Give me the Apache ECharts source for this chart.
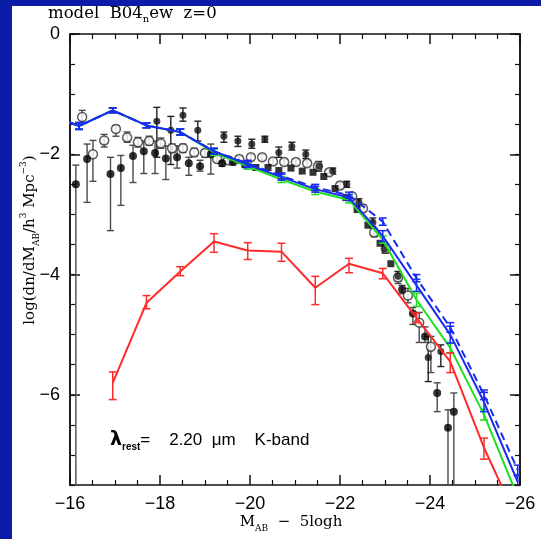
<!DOCTYPE html>
<html><head><meta charset="utf-8">
<script src="https://cdn.jsdelivr.net/npm/echarts@6/dist/echarts.min.js"></script>
<style>
html,body{margin:0;padding:0;background:#0b1ca8;width:541px;height:539px;overflow:hidden}
#c{position:absolute;left:12px;top:6px;width:529px;height:533px;background:#fff}
</style></head><body><div id="c"></div>
<script>
// ---- tick labels ----
const xTicks = [-16, -18, -20, -22, -24, -26];
const yMajor = [-6, -4, -2, 0];

// ---- model curves (magnitude bins) ----
const modelMag   = [-15.45,-16.2,-16.95,-17.7,-18.45,-19.2,-19.95,-20.7,-21.45,-22.2,-22.95,-23.7,-24.45,-25.2,-25.95];
const blueSolid  = [-1.31,-1.53,-1.27,-1.52,-1.63,-1.95,-2.17,-2.38,-2.58,-2.72,-3.36,-4.18,-5.00,-6.12,-7.45];
const blueSolidE = [0.06,0.06,0.04,0.04,0.05,0.05,0.05,0.05,0.05,0.05,0.09,0.10,0.14,0.16,0.10];
const blueDash   = [-1.31,-1.53,-1.27,-1.52,-1.63,-1.95,-2.15,-2.36,-2.55,-2.68,-3.12,-4.06,-4.88,-6.00,-7.25];
const blueDashE  = [0.05,0.05,0.04,0.04,0.05,0.05,0.05,0.05,0.05,0.05,0.06,0.06,0.08,0.08,0.08];
const greenLine  = [-1.31,-1.53,-1.27,-1.52,-1.63,-1.97,-2.20,-2.42,-2.62,-2.76,-3.42,-4.42,-5.22,-6.33,-7.70];
const greenE     = [0.05,0.05,0.04,0.04,0.05,0.05,0.05,0.05,0.05,0.05,0.06,0.11,0.09,0.09,0.10];

const redMag  = [-16.95,-17.7,-18.45,-19.2,-19.95,-20.7,-21.45,-22.2,-22.95,-23.7,-24.45,-25.2,-25.95];
const redLine = [-5.80,-4.47,-3.95,-3.45,-3.60,-3.62,-4.22,-3.82,-3.98,-4.72,-5.45,-6.88,-8.10];
const redHi   = [-5.62,-4.35,-3.87,-3.32,-3.47,-3.48,-4.03,-3.73,-3.90,-4.64,-5.30,-6.72,-8.10];
const redLo   = [-6.08,-4.57,-4.02,-3.63,-3.75,-3.78,-4.50,-3.97,-4.07,-4.80,-5.63,-7.07,-8.10];

// ---- observations: [mag, value, upper, lower] ----
const obsFilled = [
[-16.13,-2.50,-2.18,-9],[-16.38,-2.08,-1.83,-2.80],[-16.90,-2.33,-2.05,-3.27],[-17.13,-2.23,-2.02,-2.85],
[-17.40,-2.03,-1.85,-2.47],[-17.64,-1.95,-1.78,-2.32],[-17.89,-1.98,-1.78,-2.32],[-18.13,-2.07,-1.86,-2.42],
[-18.38,-2.05,-1.86,-2.23],[-18.64,-2.15,-2.05,-2.35],[-18.89,-2.20,-2.10,-2.28],[-19.13,-2.00,-1.83,-2.33],
[-19.38,-2.15,-2.10,-2.20],[-19.62,-2.13,-2.08,-2.18],[-19.89,-2.17,-2.12,-2.22],
[-23.38,-4.25,-4.18,-4.32],[-23.62,-4.65,-4.55,-4.83],[-23.89,-5.03,-4.87,-5.13],[-24.16,-5.97,-5.80,-6.28],
[-24.40,-6.55,-6.25,-9],[-24.53,-6.28,-5.97,-9]
];
const obsOpen = [
[-16.27,-1.38,-1.27,-1.47],[-16.51,-2.00,-1.77,-2.45],[-16.76,-1.77,-1.67,-1.88],[-17.02,-1.58,-1.52,-1.70],
[-17.27,-1.72,-1.63,-1.80],[-17.51,-1.80,-1.72,-1.88],[-17.76,-1.78,-1.70,-1.85],[-18.02,-1.82,-1.73,-1.90],
[-18.27,-1.90,-1.83,-1.97],[-18.51,-1.90,-1.83,-1.97],[-18.76,-1.97,-1.90,-2.03],[-19.00,-1.98,-1.92,-2.05],
[-19.27,-2.08,-2.03,-2.13],[-19.51,-2.10,-2.05,-2.15],[-19.76,-2.08,-2.03,-2.13],[-20.02,-2.05,-2.00,-2.10],
[-20.27,-2.05,-2.00,-2.10],[-20.51,-2.12,-2.07,-2.17],[-20.76,-2.13,-2.08,-2.18],[-21.02,-2.13,-2.08,-2.18],
[-21.27,-2.15,-2.10,-2.20],[-21.51,-2.20,-2.15,-2.25],[-21.76,-2.30,-2.25,-2.35],[-22.00,-2.52,-2.47,-2.57],
[-22.27,-2.70,-2.65,-2.75],[-22.51,-2.90,-2.84,-2.96],[-22.76,-3.30,-3.23,-3.37],[-23.02,-3.57,-3.50,-3.64],
[-23.29,-4.05,-3.95,-4.15],[-23.51,-4.35,-4.23,-4.47],[-23.76,-4.80,-4.63,-5.13],[-24.02,-5.20,-5.03,-5.63]
];
const obsStar = [
[-17.93,-1.45,-1.22,-2.05],[-18.24,-1.60,-1.37,-2.17],[-18.51,-1.35,-1.23,-1.45],[-18.84,-1.60,-1.45,-1.78],
[-19.42,-1.70,-1.63,-1.80],[-19.73,-1.78,-1.70,-1.87],[-20.04,-1.83,-1.75,-1.90],[-20.33,-1.75,-1.70,-1.80],
[-20.64,-1.97,-1.88,-2.05],[-20.93,-1.87,-1.80,-1.93],[-21.24,-2.00,-1.93,-2.07],[-21.53,-2.20,-2.12,-2.28],
[-21.84,-2.28,-2.23,-2.33],[-22.15,-2.50,-2.45,-2.55],[-22.42,-2.80,-2.74,-2.86],[-22.73,-3.13,-3.06,-3.20],
[-23.00,-3.57,-3.50,-3.64],[-23.29,-4.03,-3.95,-4.11],[-23.96,-5.38,-5.03,-5.78],[-24.24,-5.28,-5.17,-5.53]
];
const obsSquare = [
[-20.13,-2.22],[-20.40,-2.22],[-20.64,-2.27],[-20.91,-2.23],[-21.16,-2.28],[-21.40,-2.30],[-21.64,-2.37],
[-21.89,-2.57],[-22.13,-2.72],[-22.38,-2.92],[-22.62,-3.18],[-22.89,-3.48],[-23.13,-3.82]
];

const YMIN = -7.5, YMAX = 0, XMIN = -26, XMAX = -16;
const minus = v => String(v).replace('-', '\u2212');

function errRender(color, cap, width) {
  return function (params, api) {
    const x = api.value(0);
    if (x > XMAX || x < XMIN) return null;
    let a = api.value(1), b = api.value(2);
    if (a === b) return null;
    const capA = a <= YMAX && a >= YMIN, capB = b <= YMAX && b >= YMIN;
    const ca = Math.min(YMAX, Math.max(YMIN, a)), cb = Math.min(YMAX, Math.max(YMIN, b));
    if (ca === cb) return null;
    const p1 = api.coord([x, ca]), p2 = api.coord([x, cb]);
    const h = cap / 2, st = { stroke: color, lineWidth: width };
    const ch = [{ type: 'line', shape: { x1: p1[0], y1: p1[1], x2: p2[0], y2: p2[1] }, style: st }];
    if (capA) ch.push({ type: 'line', shape: { x1: p1[0] - h, y1: p1[1], x2: p1[0] + h, y2: p1[1] }, style: st });
    if (capB) ch.push({ type: 'line', shape: { x1: p2[0] - h, y1: p2[1], x2: p2[0] + h, y2: p2[1] }, style: st });
    return { type: 'group', children: ch };
  };
}
function errSeries(data, color, cap, width) {
  return { type: 'custom', renderItem: errRender(color, cap, width), data: data, clip: true,
           encode: { x: 0, y: [1, 2] }, silent: true, z: 3 };
}
const zipLine = (xs, ys) => xs.map((x, i) => [x, ys[i]]);
const zipErr = (xs, ys, e) => xs.map((x, i) => [x, ys[i] + e[i], ys[i] - e[i]]);
const zipErr2 = (xs, hi, lo) => xs.map((x, i) => [x, hi[i], lo[i]]);
const obsErr = arr => arr.map(d => [d[0], d[2], d[3]]);
const obsPts = arr => arr.map(d => [d[0], d[1]]);

const BLUE = '#1a2cf0', GREEN = '#1ee01e', RED = '#ff2b2b', ERRC = '#4a4a4a';
const axisLS = { color: '#111', width: 1.5 };

function xAx(pos, labels) {
  return { type: 'value', min: XMIN, max: XMAX, interval: 2, inverse: true, position: pos,
    axisLine: { show: true, onZero: false, lineStyle: axisLS },
    axisTick: { show: true, inside: true, length: 10, lineStyle: axisLS },
    minorTick: { show: true, splitNumber: 4, length: 5, lineStyle: { color: '#111', width: 1.2 } },
    axisLabel: { show: labels, formatter: minus, fontSize: 18, color: '#000', margin: 10, fontFamily: 'Liberation Sans' },
    splitLine: { show: false }, minorSplitLine: { show: false } };
}
function yAxMinor(pos) {
  return { type: 'value', min: YMIN, max: YMAX, interval: 0.5, position: pos,
    axisLine: { show: true, onZero: false, lineStyle: axisLS },
    axisTick: { show: true, inside: true, length: 5, lineStyle: { color: '#111', width: 1.2 } },
    axisLabel: { show: false }, splitLine: { show: false } };
}
function yAxMajor(pos, labels) {
  return { type: 'value', min: YMIN, max: YMAX, interval: 0.5, position: pos,
    axisLine: { show: true, onZero: false, lineStyle: axisLS },
    axisTick: { show: true, inside: true, length: 10, customValues: yMajor, lineStyle: axisLS },
    axisLabel: { show: labels, customValues: yMajor, formatter: minus, fontSize: 18, color: '#000', margin: 10, fontFamily: 'Liberation Sans' },
    splitLine: { show: false } };
}

const chart = echarts.init(document.getElementById('c'), null, { renderer: 'canvas' });
chart.setOption({
  animation: false,
  backgroundColor: '#fff',
  grid: { left: 58, top: 28, right: 21, bottom: 54, containLabel: false },
  xAxis: [xAx('bottom', true), xAx('top', false)],
  yAxis: [yAxMinor('left'), yAxMajor('left', true), yAxMinor('right'), yAxMajor('right', false)],
  graphic: [
    { type: 'text', x: 36, y: 8, style: {
        text: '{a|model  B04}{s|n}{a|ew  z=0}', textVerticalAlign: 'middle',
        rich: { a: { fontFamily: 'DejaVu Serif', fontSize: 16.5, lineHeight: 20, fill: '#000', verticalAlign: 'middle' },
                s: { fontFamily: 'DejaVu Serif', fontSize: 10, lineHeight: 8, fill: '#000', verticalAlign: 'bottom' } } } },
    { type: 'text', x: 18, y: 234, rotation: Math.PI / 2, style: {
        text: '{a|log(dn/dM}{s|AB}{a|/h}{p|3}{a| Mpc}{p|\u22123}{a|)}', textAlign: 'center', textVerticalAlign: 'middle',
        rich: { a: { fontFamily: 'DejaVu Serif', fontSize: 15, lineHeight: 22, fill: '#000', verticalAlign: 'middle' },
                s: { fontFamily: 'DejaVu Serif', fontSize: 9, lineHeight: 9, fill: '#000', verticalAlign: 'bottom' },
                p: { fontFamily: 'DejaVu Serif', fontSize: 9, lineHeight: 9, fill: '#000', verticalAlign: 'top' } } } },
    { type: 'text', x: 279, y: 516, style: {
        text: '{a|M}{s|AB}{a|  \u2212  5logh}', textAlign: 'center', textVerticalAlign: 'middle',
        rich: { a: { fontFamily: 'DejaVu Serif', fontSize: 15, lineHeight: 22, fill: '#000', verticalAlign: 'middle' },
                s: { fontFamily: 'DejaVu Serif', fontSize: 9, lineHeight: 9, fill: '#000', verticalAlign: 'bottom' } } } },
    { type: 'text', x: 98, y: 434, style: {
        text: '{l|\u03bb}{r|rest}{t|=    2.20  \u03bcm    K-band}', textVerticalAlign: 'middle',
        rich: { l: { fontFamily: 'DejaVu Sans', fontSize: 19, fontWeight: 'bold', lineHeight: 24, fill: '#000', verticalAlign: 'middle' },
                r: { fontFamily: 'Liberation Sans', fontSize: 10, fontWeight: 'bold', lineHeight: 10, fill: '#000', verticalAlign: 'bottom' },
                t: { fontFamily: 'Liberation Sans', fontSize: 17, lineHeight: 24, fill: '#000', verticalAlign: 'middle' } } } }
  ],
  series: [
    errSeries(obsErr(obsFilled), ERRC, 7, 1.4),
    errSeries(obsErr(obsOpen), ERRC, 7, 1.4),
    errSeries(obsErr(obsStar), '#222', 7, 1.4),
    { type: 'scatter', data: obsPts(obsOpen), symbol: 'circle', symbolSize: 9,
      itemStyle: { color: '#fff', borderColor: '#333', borderWidth: 1.5 }, z: 4, silent: true },
    { type: 'scatter', data: obsPts(obsFilled), symbol: 'circle', symbolSize: 8, itemStyle: { color: '#000' }, z: 4, silent: true },
    { type: 'scatter', data: obsPts(obsStar), symbol: 'circle', symbolSize: 7, itemStyle: { color: '#111' }, z: 4, silent: true },
    { type: 'scatter', data: obsSquare, symbol: 'rect', symbolSize: 7, itemStyle: { color: '#000' }, z: 4, silent: true },

    { type: 'line', data: zipLine(modelMag, greenLine), showSymbol: false, symbol: 'none', lineStyle: { color: GREEN, width: 2 }, z: 5, silent: true },
    Object.assign(errSeries(zipErr(modelMag, greenLine, greenE), GREEN, 8, 1.5), { z: 5 }),
    { type: 'line', data: zipLine(modelMag, blueDash), showSymbol: false, symbol: 'none', lineStyle: { color: BLUE, width: 2, type: [8, 5] }, z: 6, silent: true },
    Object.assign(errSeries(zipErr(modelMag, blueDash, blueDashE), BLUE, 8, 1.5), { z: 6 }),
    { type: 'line', data: zipLine(modelMag, blueSolid), showSymbol: false, symbol: 'none', lineStyle: { color: BLUE, width: 2 }, z: 7, silent: true },
    Object.assign(errSeries(zipErr(modelMag, blueSolid, blueSolidE), BLUE, 8, 1.5), { z: 7 }),
    { type: 'line', data: zipLine(redMag, redLine), showSymbol: false, symbol: 'none', lineStyle: { color: RED, width: 2 }, z: 8, silent: true },
    Object.assign(errSeries(zipErr2(redMag, redHi, redLo), RED, 8, 1.5), { z: 8 })
  ]
});
</script></body></html>
